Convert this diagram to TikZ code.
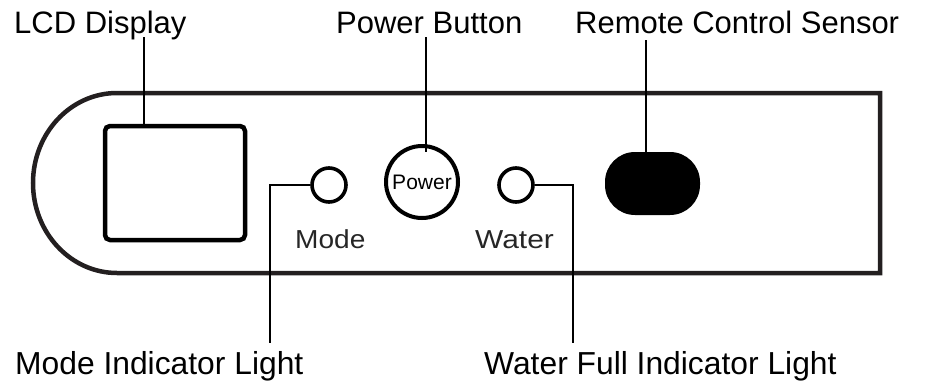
\documentclass[tikz,border=0pt]{standalone}
\usepackage{fontspec}
\setmainfont{Liberation Sans}
\usepackage{graphicx}
\usetikzlibrary{positioning,calc}
\definecolor{panelblack}{RGB}{35,31,32}
\tikzset{
  callout/.style={font=\fontsize{31}{34}\selectfont, inner sep=0pt},
  leader/.style={line width=1.6pt},
  ledring/.style={circle, draw, line width=3.6pt, minimum size=34pt, inner sep=0pt},
  paneltext/.style={font=\fontsize{26}{28}\selectfont, text=black!85, inner sep=0pt}
}

\begin{document}
\begin{tikzpicture}[x=1pt,y=-1pt]
    \useasboundingbox (0,0) rectangle (929,383);

    % Panel outline
    \draw[panelblack, line width=4.5pt] (880,93) -- (117,93)
        arc[start angle=270, end angle=90, x radius=84, y radius=90]
        -- (880,273) -- cycle;

    % LCD window
    \node[draw, line width=4.5pt, rounded corners=5pt, minimum width=140pt,
          minimum height=114pt, inner sep=0pt] (lcd) at (175,183) {};

    % Lights and power button
    \node[ledring] (modeled) at (329,185) {};
    \node[circle, draw, line width=4pt, minimum size=72pt, inner sep=0pt,
          font=\fontsize{21}{22}\selectfont] (pwr) at (422,182) {Power};
    \node[ledring] (waterled) at (516,185) {};
    \node[paneltext, anchor=base west] (modetxt) at (295,248) {\scalebox{1.08}[1]{Mode}};
    \node[paneltext, anchor=base west] (watertxt) at (475,248) {\scalebox{1.15}[1]{Water}};

    % Remote sensor
    \node[fill=black, rounded corners=30pt, minimum width=95pt,
          minimum height=63pt, inner sep=0pt] (sensor) at (652.5,183.5) {};

    % Labels
    \node[callout, anchor=base west] (lcdlbl) at (14,33) {LCD Display};
    \node[callout, anchor=base west] (pwrlbl) at (336,33) {Power Button};
    \node[callout, anchor=base west] (senslbl) at (575,33) {Remote Control Sensor};
    \node[callout, font=\fontsize{31.8}{34}\selectfont, anchor=base west] (modelbl) at (15,374) {Mode Indicator Light};
    \node[callout, font=\fontsize{31.8}{34}\selectfont, anchor=base west] (waterlbl) at (484,374) {Water Full Indicator Light};

    % Leader lines
    \coordinate (lcdtip) at (144,37);
    \coordinate (pwrtip) at (426,37);
    \coordinate (senstip) at (646,40);
    \coordinate (modeend) at (270,343);
    \coordinate (waterend) at (573,343);
    \draw[leader] (lcdtip) -- (lcdtip |- lcd.north);
    \draw[leader] (pwrtip) -- ($(pwrtip |- pwr.north)+(0,8)$);
    \draw[leader] (senstip) -- (senstip |- sensor.north);
    \draw[leader] (modeled.west) -| (modeend);
    \draw[leader] (waterled.east) -| (waterend);
\end{tikzpicture}
\end{document}
